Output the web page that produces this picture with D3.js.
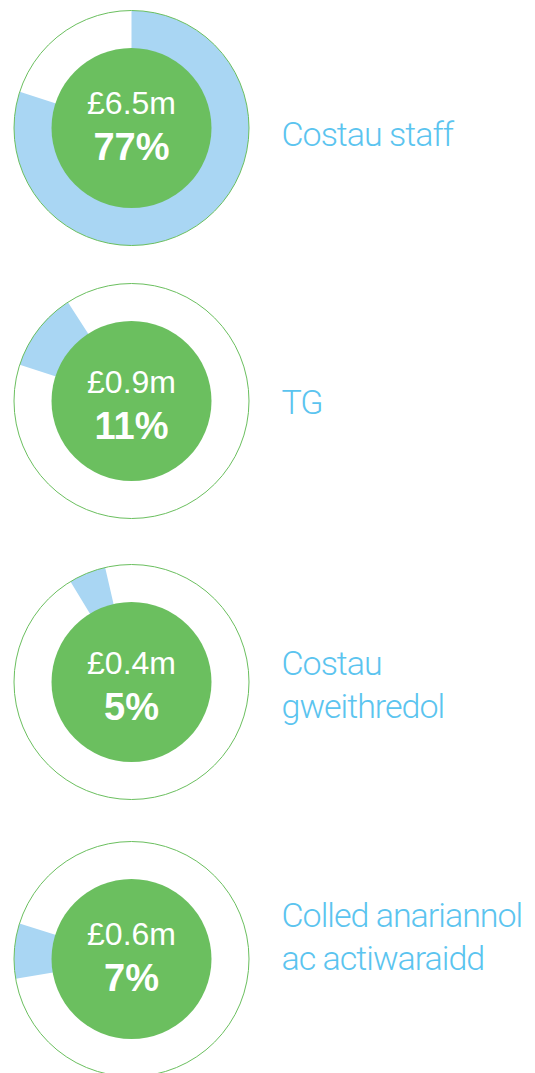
<!DOCTYPE html>
<html>
<head>
<meta charset="utf-8">
<script src="https://cdn.jsdelivr.net/npm/d3@7"></script>
<style>
  body { margin: 0; background: #fff; }
  svg { display: block; }
  .amount { font-family: "Liberation Sans", Arial, sans-serif; fill: #fff; }
  .label { font-family: Roboto, "Open Sans", sans-serif; font-weight: 300; fill: #5bc4ef; }
</style>
</head>
<body>
<svg width="535" height="1073"></svg>
<script>
// values
const labels = [["Costau staff"], ["TG"], ["Costau", "gweithredol"], ["Colled anariannol", "ac actiwaraidd"]];
const amounts = ["£6.5m", "£0.9m", "£0.4m", "£0.6m"];
const percents = [77, 11, 5, 7];
// where the blue slice sits on each ring, as a fraction of a turn from 12 o'clock
const sliceFrom = [0, 0.80, 0.913, 0.723];
const sliceTo = [0.80, 0.909, 0.964, 0.799];

const svg = d3.select("svg");
const green = "#6bbf5f", blue = "#a9d6f3";

const centersY = [128, 401, 682, 959];
const textShift = [0, 6, 6, 0];      // small vertical nudges seen in the reference
const labelShift = [5, 0, 23, -2];

const outerR = 117.5, innerR = 80;
const turn = d3.scaleLinear().domain([0, 1]).range([0, 2 * Math.PI]);
const arc = d3.arc().innerRadius(60).outerRadius(outerR);

const rows = svg.selectAll("g.row")
  .data(percents.map((p, i) => ({ p, i })))
  .join("g")
  .attr("class", "row")
  .attr("transform", d => `translate(131.5,${centersY[d.i]})`);

rows.append("circle")
  .attr("r", outerR)
  .attr("fill", "#fff");

rows.append("path")
  .attr("fill", blue)
  .attr("d", d => arc({ startAngle: turn(sliceFrom[d.i]), endAngle: turn(sliceTo[d.i]) }));

// outline on top so the slice edge stays green
rows.append("circle")
  .attr("r", outerR)
  .attr("fill", "none")
  .attr("stroke", green)
  .attr("stroke-width", 1);

rows.append("circle")
  .attr("r", innerR)
  .attr("fill", green);

rows.append("text")
  .attr("class", "amount")
  .attr("text-anchor", "middle")
  .attr("y", d => -14 + textShift[d.i])
  .style("font-size", "32px")
  .text(d => amounts[d.i]);

rows.append("text")
  .attr("class", "amount")
  .attr("text-anchor", "middle")
  .attr("y", d => 32 + textShift[d.i])
  .style("font-size", "38px")
  .style("font-weight", "bold")
  .text(d => d.p + "%");

const lineH = 43;
rows.append("text")
  .attr("class", "label")
  .style("font-size", "34px")
  .style("letter-spacing", "-1px")
  .each(function (d) {
    const lines = labels[d.i];
    d3.select(this).selectAll("tspan")
      .data(lines)
      .join("tspan")
      .attr("x", 150)
      .attr("y", (l, k) => (lines.length === 1 ? 13 : -30) + labelShift[d.i] + k * lineH)
      .text(l => l);
  });
</script>
</body>
</html>
